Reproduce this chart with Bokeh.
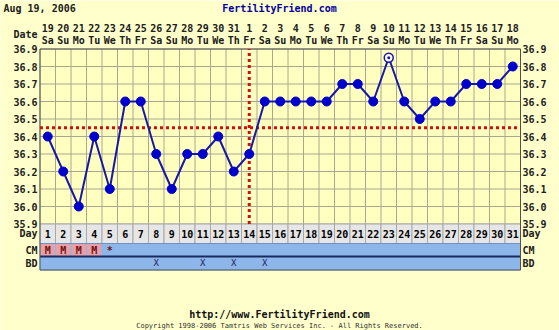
from bokeh.plotting import figure
from bokeh.models import Range1d
from bokeh.core.properties import value
from bokeh.embed import file_html
from bokeh.resources import INLINE

# ---------------- data ----------------
chart_date = "Aug 19, 2006"
site = "FertilityFriend.com"
footer_url = "http://www.FertilityFriend.com"
footer_copy = "Copyright 1998-2006 Tamtris Web Services Inc. - All Rights Reserved."

days = list(range(1, 32))
dates = ["19", "20", "21", "22", "23", "24", "25", "26", "27", "28", "29", "30", "31",
         "1", "2", "3", "4", "5", "6", "7", "8", "9", "10", "11", "12", "13", "14",
         "15", "16", "17", "18"]
weekdays = ["Sa", "Su", "Mo", "Tu", "We", "Th", "Fr", "Sa", "Su", "Mo", "Tu", "We", "Th",
            "Fr", "Sa", "Su", "Mo", "Tu", "We", "Th", "Fr", "Sa", "Su", "Mo", "Tu", "We",
            "Th", "Fr", "Sa", "Su", "Mo"]
temps = [36.4, 36.2, 36.0, 36.4, 36.1, 36.6, 36.6, 36.3, 36.1, 36.3, 36.3, 36.4, 36.2,
         36.3, 36.6, 36.6, 36.6, 36.6, 36.6, 36.7, 36.7, 36.6, 36.85, 36.6, 36.5, 36.6,
         36.6, 36.7, 36.7, 36.7, 36.8]
open_days = [23]
temp_ticks = [35.9, 36.0, 36.1, 36.2, 36.3, 36.4, 36.5, 36.6, 36.7, 36.8, 36.9]
tick_labels = ["35.9", "36.0", "36.1", "36.2", "36.3", "36.4", "36.5", "36.6", "36.7",
               "36.8", "36.9"]
coverline = 36.45
ovulation_day = 14
cm = ["M", "M", "M", "M", "*"] + [""] * 26
bd_days = [8, 11, 13, 15]
row_labels = ["Day", "CM", "BD"]

# ---------------- geometry: the frame covers the whole canvas ----------------
W, H = 559, 330
PX_DAY = 15.5          # pixels per day column
PX_DEG = 175.0         # pixels per 1.0 degree
GRID_LEFT_PX = 39.5    # pixel of the x=0.5 boundary
TOP_PX = 48.5          # pixel of 36.9
T_MIN, T_MAX = 35.9, 36.9

x0 = 0.5 - GRID_LEFT_PX / PX_DAY
x1 = x0 + W / PX_DAY
y1 = T_MAX + TOP_PX / PX_DEG
y0 = y1 - H / PX_DEG

def X(px):
    return x0 + px / PX_DAY

def Y(py):
    return y1 - py / PX_DEG

DAY_BOT = Y(243)
CM_BOT = Y(256)
BD_BOT = Y(269.5)
row_centers = [(T_MIN + DAY_BOT) / 2, (DAY_BOT + CM_BOT) / 2, (CM_BOT + BD_BOT) / 2]

BG = "#FFFFCC"
FONT = value("DejaVu Sans Mono")

p = figure(width=W, height=H, output_backend="svg", toolbar_location=None,
           x_range=Range1d(x0, x1), y_range=Range1d(y0, y1),
           min_border=0, x_axis_type=None, y_axis_type=None)
p.border_fill_color = BG
p.background_fill_color = BG
p.outline_line_color = None
p.xgrid.visible = False
p.ygrid.visible = False

# grid area background
p.rect(x=[16], y=[(T_MIN + T_MAX) / 2], width=31, height=T_MAX - T_MIN,
       fill_color="#FFFFC0", line_color=None)

# grid lines
bounds = [d - 0.5 for d in days] + [31.5]
p.segment(x0=bounds, x1=bounds, y0=[T_MIN] * len(bounds), y1=[T_MAX] * len(bounds),
          line_color="#A8A890", line_width=1)
p.segment(x0=[0.5] * len(temp_ticks), x1=[31.5] * len(temp_ticks), y0=temp_ticks,
          y1=temp_ticks, line_color="#A8A890", line_width=1)

# rows below the chart
p.rect(x=days, y=[row_centers[0]] * 31, width=1, height=T_MIN - DAY_BOT,
       fill_color="#E6E6E6", line_color="#A8A8A8", line_width=1)
cm_colors = ["#E8A0A8" if c == "M" else "#8DB6EA" for c in cm]
p.rect(x=days, y=[row_centers[1]] * 31, width=1, height=DAY_BOT - CM_BOT,
       fill_color=cm_colors, line_color="#8DB6EA", line_width=1)
p.rect(x=days, y=[row_centers[2]] * 31, width=1, height=CM_BOT - BD_BOT,
       fill_color="#8DB6EA", line_color="#8DB6EA", line_width=1)
p.segment(x0=[0.5, 0.5], x1=[31.5, 31.5], y0=[CM_BOT, DAY_BOT], y1=[CM_BOT, DAY_BOT],
          line_color=["#1A2A60", "#7090C0"], line_width=[2, 1])
# outer frame
p.rect(x=[16], y=[(T_MAX + BD_BOT) / 2], width=31, height=T_MAX - BD_BOT,
       fill_color=None, line_color="#505050", line_width=1)

txt = dict(text_font=FONT, text_font_style="bold", text_font_size="10px",
           text_baseline="middle")
p.text(x=days, y=[row_centers[0]] * 31, text=[str(d) for d in days],
       text_align="center", text_color="#000000", **txt)
p.text(x=days, y=[row_centers[1]] * 31, text=cm, text_align="center",
       text_color="#701010", text_font=FONT, text_font_style="bold",
       text_font_size="10px", text_baseline="middle")
p.text(x=bd_days, y=[row_centers[2]] * len(bd_days), text=["X"] * len(bd_days),
       text_align="center", text_color="#202060", text_font=FONT,
       text_font_size="9px", text_baseline="middle")

# coverline and ovulation line
p.segment(x0=[0.5], x1=[31.5], y0=[coverline], y1=[coverline],
          line_color="#CC1010", line_width=3, line_dash="3 3")
p.segment(x0=[ovulation_day], x1=[ovulation_day], y0=[T_MIN], y1=[T_MAX],
          line_color="#CC1010", line_width=3, line_dash="3 3")

# temperature curve
p.line(x=days, y=temps, line_color="#1818A8", line_width=2)
fx = [d for d, t in zip(days, temps) if d not in open_days]
fy = [t for d, t in zip(days, temps) if d not in open_days]
p.scatter(x=fx, y=fy, size=9, fill_color="#0000CC", line_color="#0000CC")
ox = [d for d in days if d in open_days]
oy = [t for d, t in zip(days, temps) if d in open_days]
p.scatter(x=ox, y=oy, size=9, fill_color="#FFFFFF", line_color="#1818A8", line_width=1.5)
p.scatter(x=ox, y=oy, size=3, fill_color="#1818A8", line_color=None)

# temperature tick labels and row labels, both sides
left_x = X(37)
right_x = X(522)
p.text(x=[left_x] * len(temp_ticks), y=temp_ticks, text=tick_labels,
       text_align="right", text_color="#202020", **txt)
p.text(x=[right_x] * len(temp_ticks), y=temp_ticks, text=tick_labels,
       text_align="left", text_color="#202020", **txt)
p.text(x=[left_x] * 3, y=row_centers, text=row_labels, text_align="right",
       text_color="#202020", **txt)
p.text(x=[right_x] * 3, y=row_centers, text=row_labels, text_align="left",
       text_color="#202020", **txt)

# header: dates and weekdays
p.text(x=days, y=[Y(27)] * 31, text=dates, text_align="center", text_color="#202020", **txt)
p.text(x=days, y=[Y(40)] * 31, text=weekdays, text_align="center", text_color="#202020", **txt)
p.text(x=[left_x], y=[Y(34)], text=["Date"], text_align="right", text_color="#202020", **txt)

# title and footer
p.text(x=[X(3)], y=[Y(8)], text=[chart_date], text_align="left", text_color="#202020", **txt)
p.text(x=[X(279)], y=[Y(8)], text=[site], text_align="center", text_color="#0000A0", **txt)
p.text(x=[X(279)], y=[Y(314)], text=[footer_url], text_align="center",
       text_color="#101010", **txt)
p.text(x=[X(279)], y=[Y(325)], text=[footer_copy], text_align="center",
       text_color="#303030", text_font=FONT, text_font_size="7px", text_baseline="middle")

open("out.html", "w").write(file_html(p, INLINE))
